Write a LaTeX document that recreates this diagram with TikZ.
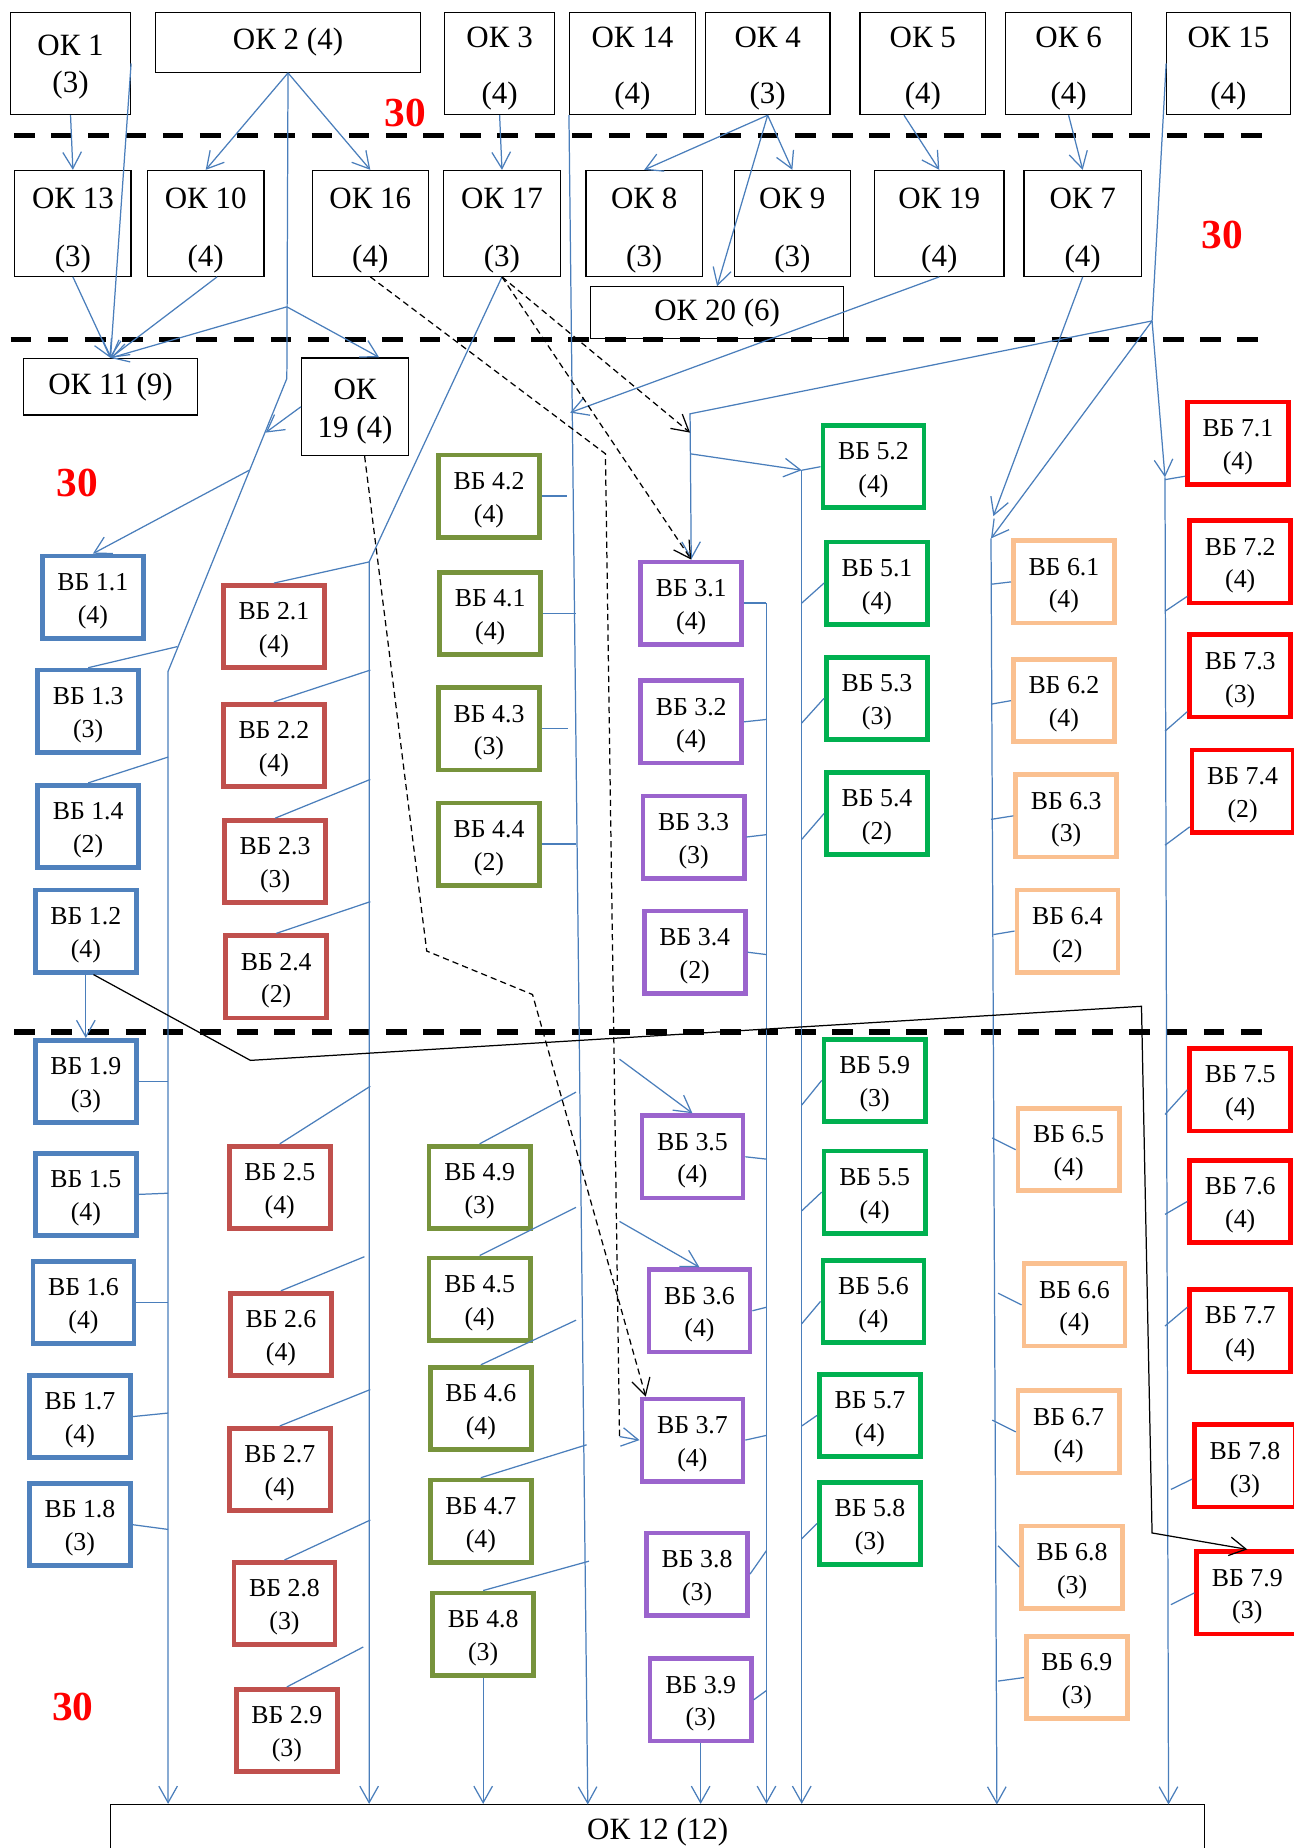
\documentclass[tikz,border=0pt]{standalone}
\usepackage{fontspec}
\setmainfont{Liberation Serif}
\usetikzlibrary{arrows.meta}

\definecolor{linkcolor}{RGB}{74, 126, 187}
\definecolor{grp1}{RGB}{79, 129, 189}
\definecolor{grp2}{RGB}{192, 80, 77}
\definecolor{grp3}{RGB}{155, 100, 205}
\definecolor{grp4}{RGB}{119, 147, 60}
\definecolor{grp5}{RGB}{0, 176, 80}
\definecolor{grp6}{RGB}{250, 192, 144}
\definecolor{grp7}{RGB}{255, 0, 0}

\begin{document}
\begin{tikzpicture}[x=0.02cm, y=-0.02cm,
    okbox/.style={draw, line width=0.6pt, align=center, inner sep=0pt, font=\fontsize{15}{18}\selectfont},
    vbbox/.style={draw=#1, line width=2.3pt, minimum width=1.72cm, minimum height=1.4cm, align=center, inner sep=0pt, font=\fontsize{12.5}{15.9}\selectfont},
    link/.style={linkcolor, line width=0.6pt},
    arc/.style={link, -{Straight Barb[length=8pt, width=9pt]}},
    depend/.style={black, line width=0.6pt, dash pattern=on 3pt off 2pt, -{Straight Barb[length=8pt, width=9pt]}},
    jump/.style={black, line width=0.6pt, -{Straight Barb[length=8pt, width=9pt]}},
    border/.style={black, line width=2.6pt, dash pattern=on 10pt off 8pt},
    credits/.style={red, font=\fontsize{20}{24}\selectfont\bfseries}
    ]
    \useasboundingbox (0,0) rectangle (1100,1572);

    % Semester borders
    \draw[border] (12,115) -- (1078,115);
    \draw[border] (9,289) -- (1077,289);
    \draw[border] (12,878) -- (1078,878);

    \node[credits] (c1) at (345,96) {30};
    \node[credits] (c2) at (1040,200) {30};
    \node[credits] (c3) at (66,411) {30};
    \node[credits] (c4) at (62,1452) {30};

    % Define OK boxes
    \node[okbox, minimum width=2.04cm, minimum height=1.74cm] (ok1) at (60,54) {\rule{0pt}{13pt}ОК 1\\(3)};
    \node[okbox, minimum width=4.5cm, minimum height=1.02cm] (ok2) at (245,36) {ОК 2 (4)};
    \foreach \name/\pts/\px/\w in {3/4/425/1.88, 14/4/538/2.14, 4/3/653/2.12, 5/4/785/2.14, 6/4/909/2.14, 15/4/1045/2.1} {
        \node[okbox, minimum width=\w cm, minimum height=1.74cm] (ok\name) at (\px,54) {\rule{0pt}{15pt}ОК \name\\[9pt](\pts)};
    }
    \foreach \name/\pts/\px/\w in {13/3/62/1.98, 10/4/175/1.98, 16/4/315/1.98, 17/3/427/1.98, 8/3/548/1.98, 9/3/674/1.98, 19/4/799/2.2, 7/4/921/2.0} {
        \node[okbox, minimum width=\w cm, minimum height=1.8cm] (ok\name) at (\px,190) {\rule{0pt}{16.5pt}ОК \name\\[10pt](\pts)};
    }
    \node[okbox, minimum width=4.3cm, minimum height=0.88cm] (ok20) at (610,266) {ОК 20 (6)};
    \node[okbox, minimum width=2.96cm, minimum height=0.96cm] (ok11) at (94,329) {ОК 11 (9)};
    \node[okbox, minimum width=1.82cm, minimum height=1.66cm] (ok19b) at (302,346) {\rule{0pt}{14.5pt}ОК\\19 (4)};
    \node[okbox, minimum width=18.62cm, minimum height=0.92cm] (ok12) at (559.5,1558) {ОК 12 (12)};

    % Define VB boxes
    \foreach \g/\k/\pts/\px/\py in {
        1/1/4/79/508, 1/3/3/75/605, 1/4/2/75/703, 1/2/4/73/792, 1/9/3/73/920,
        1/5/4/73/1016, 1/6/4/71/1108, 1/7/4/68/1205, 1/8/3/68/1297,
        2/1/4/233/533, 2/2/4/233/634, 2/3/3/234/733, 2/4/2/235/831, 2/5/4/238/1010,
        2/6/4/239/1135, 2/7/4/238/1250, 2/8/3/242/1364, 2/9/3/244/1472,
        3/1/4/588/513, 3/2/4/588/614, 3/3/3/590/712, 3/4/2/591/810, 3/5/4/589/984,
        3/6/4/595/1115, 3/7/4/589/1225, 3/8/3/593/1339, 3/9/3/596/1446,
        4/2/4/416/422, 4/1/4/417/522, 4/3/3/416/620, 4/4/2/416/718, 4/9/3/408/1010,
        4/5/4/408/1105, 4/6/4/409/1198, 4/7/4/409/1294, 4/8/3/411/1390,
        5/2/4/743/397, 5/1/4/746/496, 5/3/3/746/594, 5/4/2/746/692, 5/9/3/744/919,
        5/5/4/744/1014, 5/6/4/743/1107, 5/7/4/740/1204, 5/8/3/740/1296,
        6/1/4/905/495, 6/2/4/905/596, 6/3/3/907/694, 6/4/2/908/792, 6/5/4/909/978,
        6/6/4/914/1110, 6/7/4/909/1218, 6/8/3/912/1333, 6/9/3/916/1427,
        7/1/4/1053/377, 7/2/4/1055/478, 7/3/3/1055/575, 7/4/2/1057/673, 7/5/4/1055/927,
        7/6/4/1055/1022, 7/7/4/1055/1132, 7/8/3/1059/1247, 7/9/3/1061/1355} {
        \node[vbbox=grp\g] (vb\g-\k) at (\px,\py) {\rule{0pt}{12pt}ВБ \g.\k\\(\pts)};
    }

    % Define links
    \coordinate (k1) at (244,322);
    \coordinate (k1a) at (244,261);
    \coordinate (k1b) at (143,571);
    \coordinate (k1c) at (226,368);
    \coordinate (k1d) at (212,400);
    \coordinate (k2) at (314,478);
    \coordinate (k14) at (485,351);
    \coordinate (e14) at (500,1535);
    \coordinate (k15) at (980,273);
    \coordinate (k3) at (587,352);
    \coordinate (k3a) at (587,368);
    \coordinate (k3b) at (587,386);
    \coordinate (k3c) at (652,513);
    \coordinate (k5) at (682,400);
    \coordinate (k6) at (845,439);
    \coordinate (k6a) at (843,458);
    \coordinate (e6) at (848,1535);
    \coordinate (k7) at (991,406);
    \coordinate (e7) at (994,1535);

    \draw[arc] (ok1.south) -- (ok13.north);
    \draw[arc] (ok1.east) -- (ok11.north);
    \draw[arc] (ok13.south) -- (ok11.north);
    \draw[arc] (ok10.282) -- (ok11.north);
    \draw[arc] (ok2.south) -- (ok10.north);
    \draw[arc] (ok2.south) -- (ok16.north);
    \draw[arc] (ok3.south) -- (ok17.north);
    \draw[arc] (ok4.south) -- (ok8.north);
    \draw[arc] (ok4.south) -- (ok9.north);
    \draw[arc] (ok4.south) -- (ok20.north);
    \draw[arc] (ok5.250) -- (ok19.north);
    \draw[arc] (ok6.south) -- (ok7.north);

    % Buses down to OK 12
    \draw[arc] (ok2.south) -- (k1) -- (k1b) -- (k1b |- ok12.north);
    \draw[arc] (k1a) -- (ok11.north);
    \draw[arc] (k1a) -- (ok19b.64);
    \draw[arc] (ok19b.west) -- (k1c);
    \draw[arc] (k1d) -- (vb1-1.north);
    \draw[arc] (ok17.south) -- (k2) -- (k2 |- ok12.north);
    \draw[arc] (ok14.south west) -- (e14);
    \draw[arc] (ok19.south) -- (k14);
    \draw[arc] (ok15.west) -- (k15) -- (k3) -- (vb3-1.north);
    \draw[arc] (k3b) -- (k5);
    \draw[arc] (k5) -- (k5 |- ok12.north);
    \draw[arc] (k3c) -- (k3c |- ok12.north);
    \draw[arc] (k15) -- (k6a);
    \draw[arc] (ok7.south) -- (k6);
    \draw[arc] (k6a) -- (e6);
    \draw[arc] (k15) -- (k7);
    \draw[arc] (k7) -- (e7);
    \draw[arc] (vb1-2.south) -- (vb1-9.north);
    \draw[arc] (vb4-8.south) -- (vb4-8.south |- ok12.north);
    \draw[arc] (vb3-9.south) -- (vb3-9.south |- ok12.north);

    % Stubs from the boxes to the buses
    \foreach \g/\k/\a/\jx/\jy in {
        1/3/north/151/550, 1/4/north/143/644, 1/9/east/143/920, 1/5/east/143/1015,
        1/6/east/143/1108, 1/7/east/143/1202, 1/8/east/143/1301,
        2/1/north/314/478, 2/2/north/315/570, 2/3/north/315/663, 2/4/north/315/767,
        2/5/north/315/924, 2/6/north/310/1069, 2/7/north/315/1182, 2/8/north/315/1293,
        2/9/north/309/1401,
        3/1/east/652/513, 3/2/east/652/612, 3/3/east/652/710, 3/4/east/652/812,
        3/5/east/652/986, 3/6/east/652/1112, 3/7/east/652/1221, 3/8/east/652/1319,
        3/9/east/652/1438,
        4/2/east/482/422, 4/1/east/490/522, 4/3/east/483/620, 4/4/east/490/718,
        4/9/north/490/929, 4/5/north/490/1027, 4/6/north/490/1123, 4/7/north/499/1229,
        4/8/north/501/1328,
        5/2/west/682/400, 5/1/west/682/513, 5/3/west/682/615, 5/4/west/682/714,
        5/9/west/682/940, 5/5/west/682/1030, 5/6/west/682/1126, 5/7/west/682/1213,
        5/8/west/682/1309,
        6/1/west/843/497, 6/2/west/843/599, 6/3/west/843/697, 6/4/west/845/795,
        6/5/west/844/968, 6/6/west/849/1100, 6/7/west/844/1208, 6/8/west/849/1315,
        6/9/west/849/1430,
        7/1/212/991/408, 7/2/213/991/520, 7/3/214/991/622, 7/4/214/991/719,
        7/5/west/991/948, 7/6/west/991/1033, 7/7/156/991/1128, 7/8/194/996/1267,
        7/9/west/996/1365} {
        \coordinate (j\g-\k) at (\jx,\jy);
        \draw[link] (vb\g-\k.\a) -- (j\g-\k);
    }
    \draw[link, line width=1.2pt] (vb4-4.east) -- (j4-4);

    % Dependencies
    \coordinate (d1) at (515,386);
    \coordinate (d2) at (527,1222);
    \coordinate (d3) at (363,809);
    \coordinate (d4) at (453,846);
    \coordinate (s35) at (527,901);
    \coordinate (s36) at (527,1039);
    \draw[depend] (ok17.south) -- (k3a);
    \draw[depend] (ok17.south) -- (vb3-1.north);
    \draw[depend, -] (ok16.south) -- (d1) -- (d2);
    \draw[arc] (d2) -- (vb3-7.west);
    \draw[depend] (ok19b.281) -- (d3) -- (d4) -- (vb3-7.137);
    \draw[arc] (s35) -- (vb3-5.north);
    \draw[arc] (s36) -- (vb3-6.north);

    \coordinate (m1) at (213,902);
    \coordinate (m2) at (971,856);
    \coordinate (m3) at (980,1304);
    \draw[jump] (vb1-2.-80) -- (m1) -- (m2) -- (m3) -- (vb7-9.north);
\end{tikzpicture}
\end{document}
